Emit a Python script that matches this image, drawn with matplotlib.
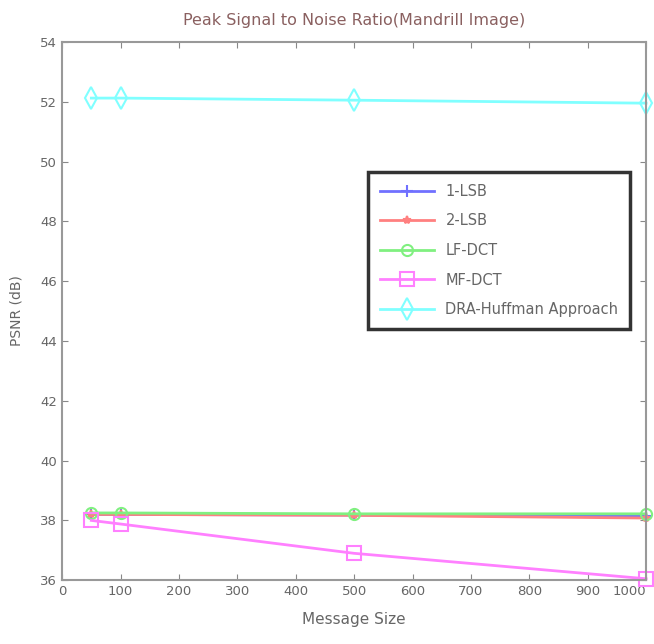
import matplotlib
matplotlib.use("Agg")
import matplotlib.pyplot as plt

msg_size = [50, 100, 500, 1000]
lsb1 = [38.20, 38.20, 38.18, 38.15]
lsb2 = [38.20, 38.20, 38.17, 38.08]
lf_dct = [38.25, 38.25, 38.22, 38.22]
mf_dct = [38.00, 37.88, 36.90, 36.05]
dra = [52.12, 52.12, 52.05, 51.95]

labels = ["1-LSB", "2-LSB", "LF-DCT", "MF-DCT", "DRA-Huffman Approach"]
xticks = list(range(0, 1001, 100))
yticks = list(range(36, 55, 2))

fig = plt.figure(figsize=(6.54, 6.44), dpi=100)
ax = fig.add_axes([0.095, 0.099, 0.893, 0.836])

series = [lsb1, lsb2, lf_dct, mf_dct, dra]
colors = ["#7070ff", "#ff8080", "#80f080", "#ff80ff", "#80ffff"]
markers = ["+", "*", "o", "s", "d"]
msizes = [9, 6, 8, 10, 11]
for vals, c, m, ms, lab in zip(series, colors, markers, msizes, labels):
    ax.plot(msg_size, vals, color=c, marker=m, markersize=ms, markerfacecolor="none",
            markeredgecolor=c, markeredgewidth=1.5, linewidth=2, label=lab, clip_on=False)

ax.set_xlim(0, 1000)
ax.set_ylim(36, 54)
ax.set_xticks(xticks)
ax.set_yticks(yticks)
ax.tick_params(direction="in", top=True, right=True, length=4, colors="#888888",
               labelsize=9.5, labelcolor="#666666")
xl = ax.get_xticklabels()
xl[-1].set_horizontalalignment("right")
for s in ax.spines.values():
    s.set_color("#999999")
    s.set_linewidth(1.5)

ax.set_title("Peak Signal to Noise Ratio(Mandrill Image)", fontsize=11.5, color="#8a6060", pad=12)
ax.set_xlabel("Message Size", fontsize=11, color="#666666", labelpad=10)
ax.set_ylabel("PSNR (dB)", fontsize=10, color="#666666", labelpad=12)

leg = ax.legend(loc="upper left", bbox_to_anchor=(0.524, 0.758), fontsize=10.5,
                frameon=True, fancybox=False, borderpad=0.8, labelspacing=1.0,
                handlelength=3.7, borderaxespad=0)
leg.get_frame().set_edgecolor("black")
leg.get_frame().set_linewidth(2.5)
for t in leg.get_texts():
    t.set_color("#666666")

fig.savefig("out.png", dpi=100)
